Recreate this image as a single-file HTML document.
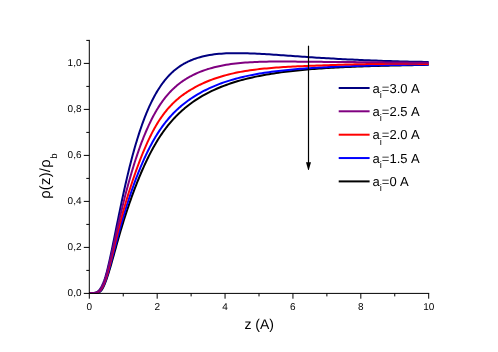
<!DOCTYPE html>
<html><head><meta charset="utf-8"><title>plot</title>
<style>html,body{margin:0;padding:0;background:#fff;width:498px;height:352px;overflow:hidden;font-family:"Liberation Sans",sans-serif}</style>
</head><body>
<svg width="498" height="352" viewBox="0 0 498 352" style="position:absolute;left:0;top:0;will-change:transform">
<rect width="498" height="352" fill="#fff"/>
<g fill="none" stroke-width="2" stroke-linejoin="round" stroke-linecap="butt">
<path stroke="#000000" d="M89.30,293.00 L94.39,293.00 L95.04,293.00 L95.69,292.99 L96.34,292.97 L96.99,292.92 L97.64,292.82 L98.29,292.66 L98.94,292.40 L99.58,292.03 L100.23,291.53 L100.88,290.89 L101.53,290.10 L102.18,289.15 L102.83,288.04 L103.48,286.79 L104.13,285.40 L104.78,283.88 L105.43,282.24 L106.08,280.49 L106.73,278.65 L107.37,276.72 L108.02,274.72 L108.67,272.65 L109.32,270.53 L109.97,268.35 L110.62,266.13 L111.27,263.88 L111.92,261.60 L112.57,259.29 L113.22,256.97 L113.87,254.64 L114.52,252.31 L115.17,249.98 L115.81,247.65 L116.46,245.33 L117.11,243.03 L117.76,240.74 L118.41,238.46 L119.06,236.20 L119.71,233.97 L120.36,231.75 L121.01,229.56 L121.66,227.40 L122.31,225.25 L122.96,223.14 L123.60,221.04 L124.25,218.97 L124.90,216.93 L125.55,214.91 L126.20,212.92 L126.85,210.95 L127.50,209.00 L128.15,207.08 L128.80,205.17 L129.45,203.29 L130.10,201.43 L130.75,199.59 L131.39,197.76 L132.04,195.96 L132.69,194.17 L133.34,192.41 L133.99,190.66 L134.64,188.94 L135.29,187.23 L135.94,185.55 L136.59,183.88 L137.24,182.23 L137.89,180.60 L138.54,179.00 L139.18,177.41 L139.83,175.84 L140.48,174.29 L141.13,172.76 L141.78,171.25 L142.43,169.76 L143.08,168.29 L143.73,166.84 L144.38,165.40 L145.03,163.99 L145.68,162.59 L146.33,161.22 L146.98,159.86 L147.62,158.52 L148.27,157.20 L148.92,155.90 L149.57,154.61 L150.22,153.35 L150.87,152.10 L151.52,150.88 L152.17,149.67 L152.82,148.47 L153.47,147.30 L154.12,146.15 L154.77,145.01 L155.41,143.89 L156.06,142.79 L156.71,141.70 L157.36,140.63 L158.01,139.59 L158.66,138.55 L159.31,137.54 L159.96,136.54 L160.61,135.56 L161.26,134.59 L161.91,133.64 L162.56,132.70 L163.20,131.78 L163.85,130.88 L164.50,129.99 L165.15,129.11 L165.80,128.25 L166.45,127.40 L167.10,126.56 L167.75,125.74 L168.40,124.93 L169.05,124.14 L169.70,123.35 L170.35,122.58 L171.00,121.82 L171.64,121.08 L172.29,120.34 L172.94,119.62 L173.59,118.91 L174.24,118.21 L174.89,117.52 L175.54,116.84 L176.19,116.17 L176.84,115.51 L177.49,114.86 L178.14,114.22 L178.79,113.59 L179.43,112.97 L180.08,112.36 L180.73,111.76 L181.38,111.17 L182.03,110.59 L182.68,110.01 L183.33,109.45 L183.98,108.89 L184.63,108.34 L185.28,107.79 L185.93,107.26 L186.58,106.73 L187.22,106.21 L187.87,105.70 L188.52,105.20 L189.17,104.70 L189.82,104.21 L190.47,103.72 L191.12,103.25 L192.82,102.03 L195.20,100.39 L197.58,98.83 L199.96,97.35 L202.35,95.93 L204.73,94.59 L207.11,93.30 L209.50,92.08 L211.88,90.91 L214.26,89.80 L216.64,88.74 L219.03,87.72 L221.41,86.75 L223.79,85.83 L226.17,84.95 L228.56,84.10 L230.94,83.29 L233.32,82.52 L235.70,81.78 L238.09,81.08 L240.47,80.40 L242.85,79.75 L245.24,79.13 L247.62,78.53 L250.00,77.96 L252.38,77.42 L254.77,76.89 L257.15,76.39 L259.53,75.91 L261.91,75.45 L264.30,75.00 L266.68,74.58 L269.06,74.17 L271.44,73.78 L273.83,73.41 L276.21,73.05 L278.59,72.70 L280.98,72.37 L283.36,72.05 L285.74,71.75 L288.12,71.46 L290.51,71.18 L292.89,70.91 L295.27,70.65 L297.65,70.40 L300.04,70.17 L302.42,69.94 L304.80,69.72 L307.18,69.51 L309.57,69.31 L311.95,69.12 L314.33,68.93 L316.72,68.75 L319.10,68.58 L321.48,68.42 L323.86,68.26 L326.25,68.11 L328.63,67.96 L331.01,67.82 L333.39,67.69 L335.78,67.56 L338.16,67.44 L340.54,67.32 L342.92,67.20 L345.31,67.09 L347.69,66.99 L350.07,66.88 L352.45,66.79 L354.84,66.69 L357.22,66.60 L359.60,66.51 L361.99,66.43 L364.37,66.35 L366.75,66.27 L369.13,66.19 L371.52,66.12 L373.90,66.05 L376.28,65.98 L378.66,65.91 L381.05,65.84 L383.43,65.78 L385.81,65.72 L388.19,65.66 L390.58,65.60 L392.96,65.55 L395.34,65.49 L397.73,65.44 L400.11,65.38 L402.49,65.33 L404.87,65.28 L407.26,65.23 L409.64,65.18 L412.02,65.13 L414.40,65.08 L416.79,65.04 L419.17,64.99 L421.55,64.94 L423.93,64.90 L426.32,64.85 L428.70,64.80"/>
<path stroke="#0000ff" d="M89.30,293.00 L94.39,293.00 L95.04,292.99 L95.69,292.96 L96.34,292.90 L96.99,292.80 L97.64,292.63 L98.29,292.38 L98.94,292.03 L99.58,291.56 L100.23,290.97 L100.88,290.23 L101.53,289.35 L102.18,288.33 L102.83,287.15 L103.48,285.83 L104.13,284.37 L104.78,282.78 L105.43,281.06 L106.08,279.22 L106.73,277.27 L107.37,275.22 L108.02,273.09 L108.67,270.87 L109.32,268.60 L109.97,266.26 L110.62,263.88 L111.27,261.47 L111.92,259.03 L112.57,256.56 L113.22,254.09 L113.87,251.60 L114.52,249.11 L115.17,246.63 L115.81,244.15 L116.46,241.68 L117.11,239.23 L117.76,236.79 L118.41,234.37 L119.06,231.98 L119.71,229.61 L120.36,227.26 L121.01,224.94 L121.66,222.65 L122.31,220.38 L122.96,218.14 L123.60,215.93 L124.25,213.75 L124.90,211.60 L125.55,209.48 L126.20,207.38 L126.85,205.32 L127.50,203.28 L128.15,201.26 L128.80,199.27 L129.45,197.31 L130.10,195.37 L130.75,193.45 L131.39,191.55 L132.04,189.68 L132.69,187.83 L133.34,186.01 L133.99,184.20 L134.64,182.42 L135.29,180.67 L135.94,178.93 L136.59,177.22 L137.24,175.53 L137.89,173.87 L138.54,172.23 L139.18,170.61 L139.83,169.01 L140.48,167.43 L141.13,165.88 L141.78,164.35 L142.43,162.84 L143.08,161.36 L143.73,159.89 L144.38,158.45 L145.03,157.02 L145.68,155.62 L146.33,154.24 L146.98,152.89 L147.62,151.55 L148.27,150.23 L148.92,148.93 L149.57,147.66 L150.22,146.40 L150.87,145.17 L151.52,143.95 L152.17,142.76 L152.82,141.58 L153.47,140.43 L154.12,139.29 L154.77,138.17 L155.41,137.07 L156.06,136.00 L156.71,134.94 L157.36,133.89 L158.01,132.87 L158.66,131.87 L159.31,130.88 L159.96,129.91 L160.61,128.96 L161.26,128.03 L161.91,127.11 L162.56,126.21 L163.20,125.32 L163.85,124.45 L164.50,123.60 L165.15,122.76 L165.80,121.93 L166.45,121.12 L167.10,120.32 L167.75,119.54 L168.40,118.77 L169.05,118.02 L169.70,117.27 L170.35,116.54 L171.00,115.82 L171.64,115.12 L172.29,114.43 L172.94,113.74 L173.59,113.07 L174.24,112.41 L174.89,111.76 L175.54,111.13 L176.19,110.50 L176.84,109.88 L177.49,109.28 L178.14,108.68 L178.79,108.09 L179.43,107.51 L180.08,106.94 L180.73,106.38 L181.38,105.83 L182.03,105.29 L182.68,104.76 L183.33,104.23 L183.98,103.71 L184.63,103.20 L185.28,102.70 L185.93,102.20 L186.58,101.72 L187.22,101.24 L187.87,100.76 L188.52,100.30 L189.17,99.83 L189.82,99.38 L190.47,98.93 L191.12,98.49 L192.82,97.36 L195.20,95.85 L197.58,94.41 L199.96,93.04 L202.35,91.73 L204.73,90.48 L207.11,89.30 L209.50,88.17 L211.88,87.09 L214.26,86.07 L216.64,85.09 L219.03,84.16 L221.41,83.27 L223.79,82.43 L226.17,81.62 L228.56,80.85 L230.94,80.12 L233.32,79.42 L235.70,78.76 L238.09,78.12 L240.47,77.52 L242.85,76.94 L245.24,76.39 L247.62,75.87 L250.00,75.37 L252.38,74.90 L254.77,74.45 L257.15,74.02 L259.53,73.60 L261.91,73.21 L264.30,72.84 L266.68,72.48 L269.06,72.14 L271.44,71.81 L273.83,71.50 L276.21,71.21 L278.59,70.92 L280.98,70.65 L283.36,70.40 L285.74,70.15 L288.12,69.91 L290.51,69.68 L292.89,69.47 L295.27,69.26 L297.65,69.06 L300.04,68.87 L302.42,68.69 L304.80,68.51 L307.18,68.34 L309.57,68.18 L311.95,68.02 L314.33,67.87 L316.72,67.72 L319.10,67.58 L321.48,67.44 L323.86,67.31 L326.25,67.19 L328.63,67.07 L331.01,66.95 L333.39,66.84 L335.78,66.73 L338.16,66.62 L340.54,66.52 L342.92,66.43 L345.31,66.33 L347.69,66.24 L350.07,66.16 L352.45,66.08 L354.84,66.00 L357.22,65.92 L359.60,65.84 L361.99,65.77 L364.37,65.71 L366.75,65.64 L369.13,65.58 L371.52,65.52 L373.90,65.46 L376.28,65.40 L378.66,65.35 L381.05,65.30 L383.43,65.25 L385.81,65.20 L388.19,65.15 L390.58,65.11 L392.96,65.07 L395.34,65.03 L397.73,64.99 L400.11,64.95 L402.49,64.92 L404.87,64.88 L407.26,64.85 L409.64,64.82 L412.02,64.79 L414.40,64.76 L416.79,64.73 L419.17,64.71 L421.55,64.68 L423.93,64.66 L426.32,64.64 L428.70,64.62"/>
<path stroke="#000080" d="M89.30,293.00 L94.39,292.82 L95.04,292.68 L95.69,292.49 L96.34,292.23 L96.99,291.90 L97.64,291.49 L98.29,290.98 L98.94,290.37 L99.58,289.65 L100.23,288.81 L100.88,287.83 L101.53,286.72 L102.18,285.45 L102.83,284.04 L103.48,282.46 L104.13,280.73 L104.78,278.83 L105.43,276.78 L106.08,274.56 L106.73,272.19 L107.37,269.69 L108.02,267.05 L108.67,264.29 L109.32,261.44 L109.97,258.50 L110.62,255.50 L111.27,252.45 L111.92,249.35 L112.57,246.22 L113.22,243.05 L113.87,239.86 L114.52,236.66 L115.17,233.44 L115.81,230.23 L116.46,227.01 L117.11,223.79 L117.76,220.59 L118.41,217.40 L119.06,214.23 L119.71,211.08 L120.36,207.95 L121.01,204.84 L121.66,201.77 L122.31,198.72 L122.96,195.71 L123.60,192.73 L124.25,189.78 L124.90,186.87 L125.55,184.00 L126.20,181.17 L126.85,178.37 L127.50,175.62 L128.15,172.91 L128.80,170.23 L129.45,167.60 L130.10,165.01 L130.75,162.46 L131.39,159.96 L132.04,157.49 L132.69,155.07 L133.34,152.69 L133.99,150.36 L134.64,148.06 L135.29,145.80 L135.94,143.59 L136.59,141.42 L137.24,139.28 L137.89,137.19 L138.54,135.14 L139.18,133.13 L139.83,131.16 L140.48,129.22 L141.13,127.32 L141.78,125.47 L142.43,123.65 L143.08,121.86 L143.73,120.11 L144.38,118.40 L145.03,116.73 L145.68,115.09 L146.33,113.48 L146.98,111.91 L147.62,110.37 L148.27,108.87 L148.92,107.40 L149.57,105.96 L150.22,104.55 L150.87,103.17 L151.52,101.83 L152.17,100.51 L152.82,99.23 L153.47,97.97 L154.12,96.74 L154.77,95.55 L155.41,94.38 L156.06,93.23 L156.71,92.12 L157.36,91.03 L158.01,89.97 L158.66,88.93 L159.31,87.92 L159.96,86.94 L160.61,85.98 L161.26,85.04 L161.91,84.12 L162.56,83.23 L163.20,82.36 L163.85,81.52 L164.50,80.69 L165.15,79.88 L165.80,79.10 L166.45,78.33 L167.10,77.59 L167.75,76.86 L168.40,76.15 L169.05,75.46 L169.70,74.79 L170.35,74.13 L171.00,73.49 L171.64,72.87 L172.29,72.27 L172.94,71.68 L173.59,71.10 L174.24,70.54 L174.89,70.00 L175.54,69.47 L176.19,68.95 L176.84,68.45 L177.49,67.96 L178.14,67.48 L178.79,67.02 L179.43,66.57 L180.08,66.13 L180.73,65.70 L181.38,65.29 L182.03,64.88 L182.68,64.49 L183.33,64.11 L183.98,63.73 L184.63,63.37 L185.28,63.02 L185.93,62.67 L186.58,62.34 L187.22,62.02 L187.87,61.70 L188.52,61.39 L189.17,61.09 L189.82,60.80 L190.47,60.52 L191.12,60.24 L192.82,59.56 L195.20,58.68 L197.58,57.89 L199.96,57.18 L202.35,56.55 L204.73,55.99 L207.11,55.50 L209.50,55.06 L211.88,54.68 L214.26,54.35 L216.64,54.07 L219.03,53.84 L221.41,53.64 L223.79,53.48 L226.17,53.35 L228.56,53.26 L230.94,53.19 L233.32,53.15 L235.70,53.13 L238.09,53.13 L240.47,53.15 L242.85,53.19 L245.24,53.24 L247.62,53.30 L250.00,53.38 L252.38,53.47 L254.77,53.57 L257.15,53.68 L259.53,53.80 L261.91,53.93 L264.30,54.07 L266.68,54.21 L269.06,54.35 L271.44,54.51 L273.83,54.66 L276.21,54.82 L278.59,54.98 L280.98,55.15 L283.36,55.32 L285.74,55.48 L288.12,55.65 L290.51,55.82 L292.89,55.99 L295.27,56.16 L297.65,56.33 L300.04,56.50 L302.42,56.67 L304.80,56.83 L307.18,57.00 L309.57,57.16 L311.95,57.32 L314.33,57.47 L316.72,57.63 L319.10,57.78 L321.48,57.92 L323.86,58.07 L326.25,58.21 L328.63,58.35 L331.01,58.49 L333.39,58.62 L335.78,58.76 L338.16,58.89 L340.54,59.01 L342.92,59.14 L345.31,59.26 L347.69,59.38 L350.07,59.50 L352.45,59.61 L354.84,59.72 L357.22,59.83 L359.60,59.94 L361.99,60.04 L364.37,60.15 L366.75,60.25 L369.13,60.34 L371.52,60.44 L373.90,60.53 L376.28,60.62 L378.66,60.71 L381.05,60.79 L383.43,60.88 L385.81,60.96 L388.19,61.03 L390.58,61.11 L392.96,61.18 L395.34,61.25 L397.73,61.32 L400.11,61.39 L402.49,61.45 L404.87,61.51 L407.26,61.57 L409.64,61.63 L412.02,61.68 L414.40,61.73 L416.79,61.78 L419.17,61.83 L421.55,61.87 L423.93,61.92 L426.32,61.95 L428.70,61.99"/>
<path stroke="#ff0000" d="M89.30,293.00 L94.39,292.97 L95.04,292.92 L95.69,292.84 L96.34,292.72 L96.99,292.54 L97.64,292.28 L98.29,291.94 L98.94,291.50 L99.58,290.95 L100.23,290.29 L100.88,289.50 L101.53,288.57 L102.18,287.50 L102.83,286.28 L103.48,284.92 L104.13,283.40 L104.78,281.74 L105.43,279.93 L106.08,277.97 L106.73,275.89 L107.37,273.68 L108.02,271.37 L108.67,268.95 L109.32,266.46 L109.97,263.91 L110.62,261.31 L111.27,258.68 L111.92,256.02 L112.57,253.34 L113.22,250.66 L113.87,247.97 L114.52,245.28 L115.17,242.61 L115.81,239.94 L116.46,237.30 L117.11,234.67 L117.76,232.07 L118.41,229.49 L119.06,226.95 L119.71,224.43 L120.36,221.95 L121.01,219.50 L121.66,217.08 L122.31,214.69 L122.96,212.34 L123.60,210.02 L124.25,207.73 L124.90,205.48 L125.55,203.25 L126.20,201.06 L126.85,198.89 L127.50,196.76 L128.15,194.65 L128.80,192.56 L129.45,190.50 L130.10,188.47 L130.75,186.45 L131.39,184.46 L132.04,182.49 L132.69,180.54 L133.34,178.61 L133.99,176.70 L134.64,174.82 L135.29,172.96 L135.94,171.12 L136.59,169.31 L137.24,167.52 L137.89,165.75 L138.54,164.00 L139.18,162.28 L139.83,160.57 L140.48,158.90 L141.13,157.24 L141.78,155.61 L142.43,154.00 L143.08,152.41 L143.73,150.85 L144.38,149.31 L145.03,147.79 L145.68,146.30 L146.33,144.83 L146.98,143.38 L147.62,141.96 L148.27,140.56 L148.92,139.18 L149.57,137.83 L150.22,136.50 L150.87,135.19 L151.52,133.90 L152.17,132.64 L152.82,131.40 L153.47,130.19 L154.12,129.00 L154.77,127.83 L155.41,126.68 L156.06,125.56 L156.71,124.46 L157.36,123.38 L158.01,122.33 L158.66,121.30 L159.31,120.29 L159.96,119.30 L160.61,118.33 L161.26,117.39 L161.91,116.46 L162.56,115.55 L163.20,114.67 L163.85,113.80 L164.50,112.95 L165.15,112.12 L165.80,111.30 L166.45,110.50 L167.10,109.72 L167.75,108.96 L168.40,108.21 L169.05,107.48 L169.70,106.76 L170.35,106.06 L171.00,105.37 L171.64,104.70 L172.29,104.04 L172.94,103.39 L173.59,102.76 L174.24,102.14 L174.89,101.53 L175.54,100.93 L176.19,100.35 L176.84,99.78 L177.49,99.21 L178.14,98.66 L178.79,98.12 L179.43,97.59 L180.08,97.07 L180.73,96.56 L181.38,96.06 L182.03,95.57 L182.68,95.09 L183.33,94.61 L183.98,94.15 L184.63,93.69 L185.28,93.24 L185.93,92.80 L186.58,92.36 L187.22,91.93 L187.87,91.51 L188.52,91.10 L189.17,90.69 L189.82,90.29 L190.47,89.90 L191.12,89.51 L192.82,88.52 L195.20,87.19 L197.58,85.93 L199.96,84.73 L202.35,83.60 L204.73,82.53 L207.11,81.51 L209.50,80.55 L211.88,79.64 L214.26,78.77 L216.64,77.96 L219.03,77.18 L221.41,76.45 L223.79,75.76 L226.17,75.10 L228.56,74.48 L230.94,73.90 L233.32,73.35 L235.70,72.83 L238.09,72.35 L240.47,71.89 L242.85,71.46 L245.24,71.05 L247.62,70.67 L250.00,70.32 L252.38,69.99 L254.77,69.67 L257.15,69.38 L259.53,69.11 L261.91,68.85 L264.30,68.61 L266.68,68.38 L269.06,68.17 L271.44,67.97 L273.83,67.78 L276.21,67.60 L278.59,67.43 L280.98,67.27 L283.36,67.12 L285.74,66.98 L288.12,66.84 L290.51,66.72 L292.89,66.59 L295.27,66.48 L297.65,66.36 L300.04,66.25 L302.42,66.15 L304.80,66.05 L307.18,65.95 L309.57,65.85 L311.95,65.75 L314.33,65.66 L316.72,65.56 L319.10,65.47 L321.48,65.38 L323.86,65.30 L326.25,65.21 L328.63,65.13 L331.01,65.05 L333.39,64.97 L335.78,64.89 L338.16,64.82 L340.54,64.74 L342.92,64.67 L345.31,64.61 L347.69,64.54 L350.07,64.48 L352.45,64.42 L354.84,64.36 L357.22,64.31 L359.60,64.25 L361.99,64.20 L364.37,64.16 L366.75,64.11 L369.13,64.07 L371.52,64.03 L373.90,64.00 L376.28,63.97 L378.66,63.94 L381.05,63.91 L383.43,63.88 L385.81,63.86 L388.19,63.85 L390.58,63.83 L392.96,63.82 L395.34,63.81 L397.73,63.80 L400.11,63.80 L402.49,63.80 L404.87,63.80 L407.26,63.81 L409.64,63.82 L412.02,63.83 L414.40,63.85 L416.79,63.87 L419.17,63.89 L421.55,63.92 L423.93,63.95 L426.32,63.98 L428.70,64.02"/>
<path stroke="#800080" d="M89.30,293.00 L94.39,292.92 L95.04,292.84 L95.69,292.71 L96.34,292.51 L96.99,292.25 L97.64,291.91 L98.29,291.47 L98.94,290.93 L99.58,290.27 L100.23,289.49 L100.88,288.58 L101.53,287.53 L102.18,286.34 L102.83,285.00 L103.48,283.51 L104.13,281.86 L104.78,280.07 L105.43,278.12 L106.08,276.03 L106.73,273.81 L107.37,271.46 L108.02,268.99 L108.67,266.42 L109.32,263.77 L109.97,261.05 L110.62,258.28 L111.27,255.46 L111.92,252.61 L112.57,249.74 L113.22,246.85 L113.87,243.94 L114.52,241.04 L115.17,238.13 L115.81,235.22 L116.46,232.33 L117.11,229.45 L117.76,226.58 L118.41,223.74 L119.06,220.92 L119.71,218.12 L120.36,215.35 L121.01,212.61 L121.66,209.90 L122.31,207.22 L122.96,204.57 L123.60,201.95 L124.25,199.37 L124.90,196.82 L125.55,194.31 L126.20,191.83 L126.85,189.38 L127.50,186.97 L128.15,184.59 L128.80,182.24 L129.45,179.93 L130.10,177.65 L130.75,175.40 L131.39,173.18 L132.04,171.00 L132.69,168.84 L133.34,166.72 L133.99,164.63 L134.64,162.57 L135.29,160.54 L135.94,158.54 L136.59,156.58 L137.24,154.65 L137.89,152.74 L138.54,150.87 L139.18,149.03 L139.83,147.22 L140.48,145.44 L141.13,143.69 L141.78,141.97 L142.43,140.27 L143.08,138.61 L143.73,136.98 L144.38,135.38 L145.03,133.80 L145.68,132.25 L146.33,130.74 L146.98,129.24 L147.62,127.78 L148.27,126.34 L148.92,124.94 L149.57,123.55 L150.22,122.20 L150.87,120.87 L151.52,119.57 L152.17,118.29 L152.82,117.04 L153.47,115.81 L154.12,114.61 L154.77,113.43 L155.41,112.28 L156.06,111.15 L156.71,110.05 L157.36,108.97 L158.01,107.92 L158.66,106.88 L159.31,105.87 L159.96,104.89 L160.61,103.92 L161.26,102.97 L161.91,102.05 L162.56,101.15 L163.20,100.26 L163.85,99.40 L164.50,98.55 L165.15,97.73 L165.80,96.92 L166.45,96.13 L167.10,95.36 L167.75,94.60 L168.40,93.86 L169.05,93.14 L169.70,92.43 L170.35,91.74 L171.00,91.06 L171.64,90.40 L172.29,89.76 L172.94,89.13 L173.59,88.51 L174.24,87.90 L174.89,87.31 L175.54,86.73 L176.19,86.17 L176.84,85.61 L177.49,85.07 L178.14,84.54 L178.79,84.03 L179.43,83.52 L180.08,83.02 L180.73,82.54 L181.38,82.06 L182.03,81.60 L182.68,81.14 L183.33,80.70 L183.98,80.26 L184.63,79.83 L185.28,79.42 L185.93,79.01 L186.58,78.61 L187.22,78.21 L187.87,77.83 L188.52,77.45 L189.17,77.08 L189.82,76.72 L190.47,76.37 L191.12,76.02 L192.82,75.14 L195.20,73.99 L197.58,72.91 L199.96,71.92 L202.35,70.99 L204.73,70.13 L207.11,69.33 L209.50,68.60 L211.88,67.92 L214.26,67.29 L216.64,66.71 L219.03,66.17 L221.41,65.68 L223.79,65.23 L226.17,64.81 L228.56,64.43 L230.94,64.08 L233.32,63.77 L235.70,63.48 L238.09,63.22 L240.47,62.99 L242.85,62.78 L245.24,62.59 L247.62,62.42 L250.00,62.27 L252.38,62.14 L254.77,62.02 L257.15,61.92 L259.53,61.84 L261.91,61.76 L264.30,61.70 L266.68,61.65 L269.06,61.61 L271.44,61.58 L273.83,61.56 L276.21,61.54 L278.59,61.53 L280.98,61.53 L283.36,61.53 L285.74,61.54 L288.12,61.55 L290.51,61.57 L292.89,61.58 L295.27,61.60 L297.65,61.63 L300.04,61.65 L302.42,61.67 L304.80,61.70 L307.18,61.72 L309.57,61.75 L311.95,61.77 L314.33,61.79 L316.72,61.81 L319.10,61.84 L321.48,61.86 L323.86,61.88 L326.25,61.90 L328.63,61.92 L331.01,61.93 L333.39,61.95 L335.78,61.97 L338.16,61.99 L340.54,62.01 L342.92,62.03 L345.31,62.04 L347.69,62.06 L350.07,62.08 L352.45,62.10 L354.84,62.12 L357.22,62.13 L359.60,62.15 L361.99,62.17 L364.37,62.19 L366.75,62.21 L369.13,62.23 L371.52,62.25 L373.90,62.27 L376.28,62.29 L378.66,62.31 L381.05,62.33 L383.43,62.36 L385.81,62.38 L388.19,62.40 L390.58,62.43 L392.96,62.45 L395.34,62.48 L397.73,62.50 L400.11,62.53 L402.49,62.55 L404.87,62.58 L407.26,62.61 L409.64,62.64 L412.02,62.67 L414.40,62.70 L416.79,62.73 L419.17,62.76 L421.55,62.80 L423.93,62.83 L426.32,62.86 L428.70,62.90"/>
</g>
<g stroke="#000" stroke-width="1" fill="none" stroke-linecap="butt">
<path d="M89.3,39.90 V293.90"/>
<path d="M88.8,293.4 H429.20"/>
<path d="M89.30,293.4 v5.3"/>
<path d="M123.24,293.4 v3"/>
<path d="M157.18,293.4 v5.3"/>
<path d="M191.12,293.4 v3"/>
<path d="M225.06,293.4 v5.3"/>
<path d="M259.00,293.4 v3"/>
<path d="M292.94,293.4 v5.3"/>
<path d="M326.88,293.4 v3"/>
<path d="M360.82,293.4 v5.3"/>
<path d="M394.76,293.4 v3"/>
<path d="M428.70,293.4 v5.3"/>
<path d="M89.3,293.40 h-5.5"/>
<path d="M89.3,270.40 h-3"/>
<path d="M89.3,247.40 h-5.5"/>
<path d="M89.3,224.40 h-3"/>
<path d="M89.3,201.40 h-5.5"/>
<path d="M89.3,178.40 h-3"/>
<path d="M89.3,155.40 h-5.5"/>
<path d="M89.3,132.40 h-3"/>
<path d="M89.3,109.40 h-5.5"/>
<path d="M89.3,86.40 h-3"/>
<path d="M89.3,63.40 h-5.5"/>
<path d="M89.3,40.40 h-3"/>
</g>
<path d="M308.5,45.7 V166" stroke="#000" stroke-width="1.2" fill="none"/>
<path d="M306,162.3 L308.2,170 L308.8,170 L311,162.3 Z" fill="#000"/>
<g stroke-width="2" fill="none">
<path stroke="#000080" d="M338.7,88.0 H369.6"/>
<path stroke="#800080" d="M338.7,111.3 H369.6"/>
<path stroke="#ff0000" d="M338.7,134.7 H369.6"/>
<path stroke="#0000ff" d="M338.7,158.05 H369.6"/>
<path stroke="#000000" d="M338.7,181.4 H369.6"/>
</g>
<g font-family="Liberation Sans, sans-serif" fill="#000" text-rendering="geometricPrecision">
<text x="372.4" y="92.7" font-size="13">a<tspan font-size="9.3" dy="5.2">i</tspan><tspan dy="-5.2" dx="0.1">=3.0</tspan><tspan dx="3.4">A</tspan></text>
<text x="372.4" y="116.0" font-size="13">a<tspan font-size="9.3" dy="5.2">i</tspan><tspan dy="-5.2" dx="0.1">=2.5</tspan><tspan dx="3.4">A</tspan></text>
<text x="372.4" y="139.4" font-size="13">a<tspan font-size="9.3" dy="5.2">i</tspan><tspan dy="-5.2" dx="0.1">=2.0</tspan><tspan dx="3.4">A</tspan></text>
<text x="372.4" y="162.8" font-size="13">a<tspan font-size="9.3" dy="5.2">i</tspan><tspan dy="-5.2" dx="0.1">=1.5</tspan><tspan dx="3.4">A</tspan></text>
<text x="372.4" y="186.1" font-size="13">a<tspan font-size="9.3" dy="5.2">i</tspan><tspan dy="-5.2" dx="0.1">=0</tspan><tspan dx="3.4">A</tspan></text>
<text x="89.3" y="309.6" font-size="10" text-anchor="middle">0</text>
<text x="157.2" y="309.6" font-size="10" text-anchor="middle">2</text>
<text x="225.1" y="309.6" font-size="10" text-anchor="middle">4</text>
<text x="292.9" y="309.6" font-size="10" text-anchor="middle">6</text>
<text x="360.8" y="309.6" font-size="10" text-anchor="middle">8</text>
<text x="428.7" y="309.6" font-size="10" text-anchor="middle">10</text>
<text x="81.5" y="296.0" font-size="10" text-anchor="end">0,0</text>
<text x="81.5" y="250.0" font-size="10" text-anchor="end">0,2</text>
<text x="81.5" y="204.0" font-size="10" text-anchor="end">0,4</text>
<text x="81.5" y="158.0" font-size="10" text-anchor="end">0,6</text>
<text x="81.5" y="112.0" font-size="10" text-anchor="end">0,8</text>
<text x="81.5" y="66.0" font-size="10" text-anchor="end">1,0</text>
<text x="259.2" y="328.5" font-size="14" text-anchor="middle">z (A)</text>
<text transform="translate(50.3,198.8) rotate(-90)" font-size="14.8" letter-spacing="0.25">ρ(z)/ρ<tspan font-size="9.5" dy="6.8" dx="0.3">b</tspan></text>
</g>
</svg>
</body></html>
